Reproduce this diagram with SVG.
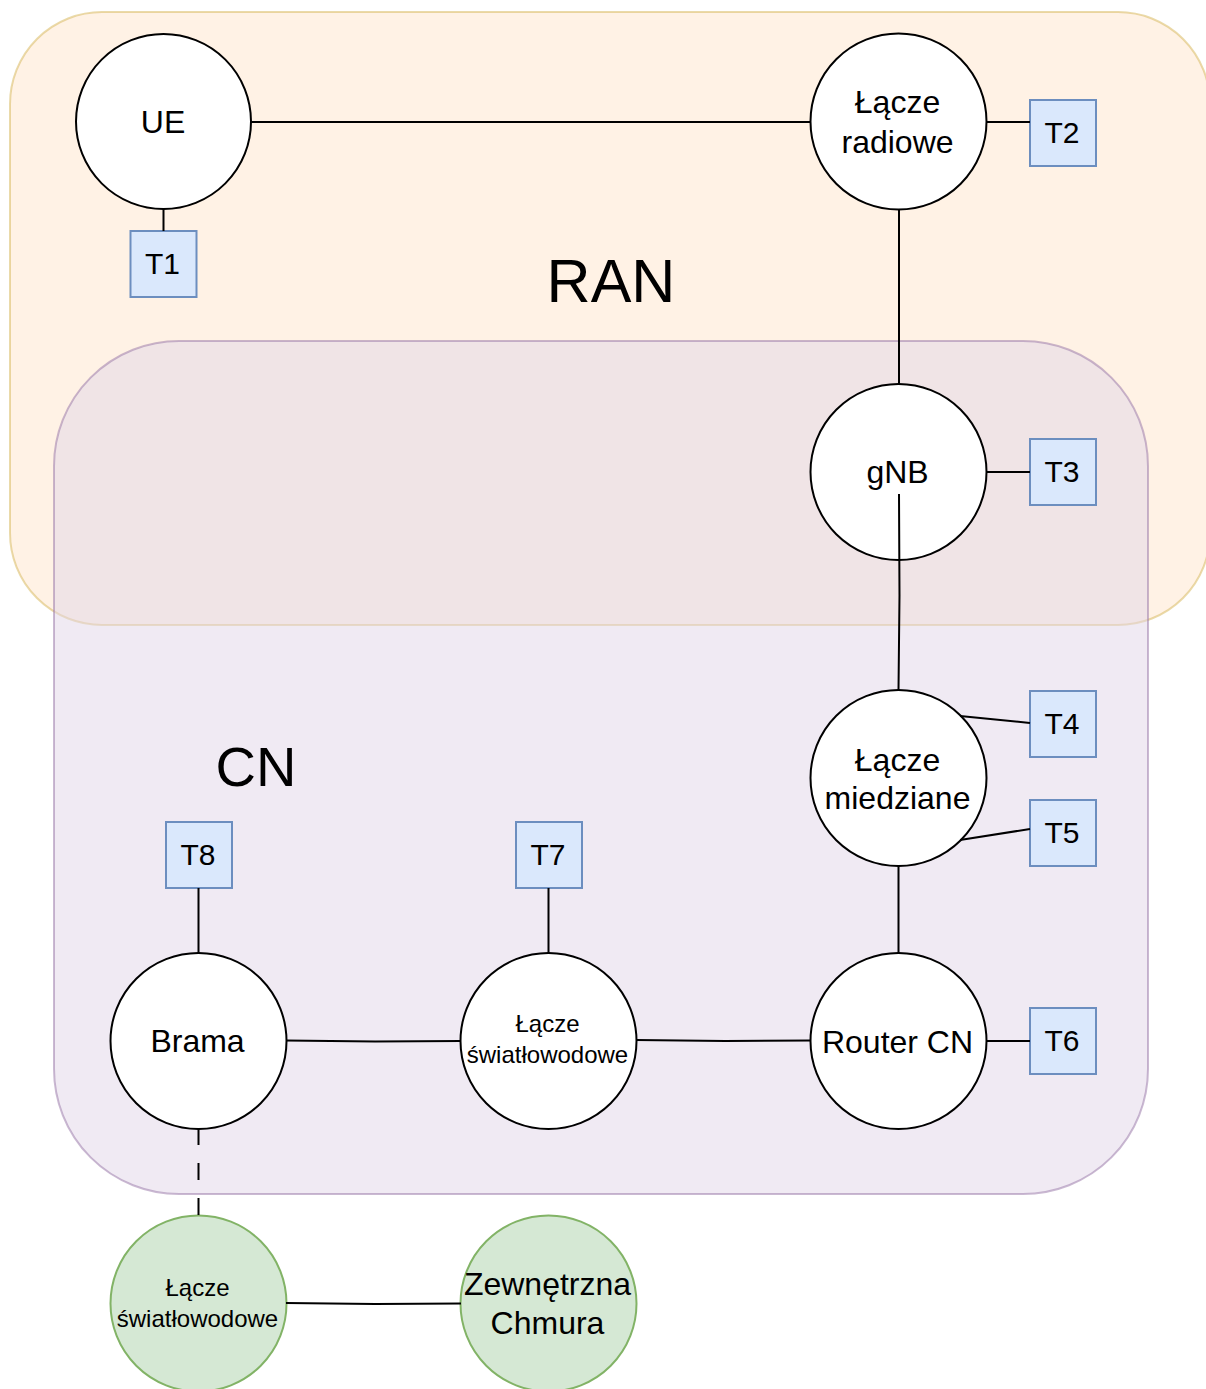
<svg xmlns="http://www.w3.org/2000/svg" width="1206" height="1389" viewBox="0 0 1206 1389">
  <style>
    text { font-family: "Liberation Sans", Arial, sans-serif; fill: #000; text-anchor: middle; }
    .node { fill: #fff; stroke: #000; stroke-width: 2; }
    .cloud { fill: #d5e8d4; stroke: #82b366; stroke-width: 2; }
    .probe { fill: #dae8fc; stroke: #6c8ebf; stroke-width: 2; }
    .edge { fill: none; stroke: #000; stroke-width: 2; }
    .dashed { stroke-dasharray: 17 18; }
    .big { font-size: 32px; }
    .small { font-size: 24px; }
    .tag { font-size: 30px; }
  </style>

  <!-- domain containers -->
  <g id="ran">
    <rect x="10" y="12" width="1200" height="613" rx="92" ry="92" fill="#ffe6cc" fill-opacity="0.5" stroke="#d6b656" stroke-opacity="0.5" stroke-width="2"/>
    <text x="611" y="302" style="font-size:61px">RAN</text>
  </g>
  <g id="cn">
    <rect x="54" y="341" width="1094" height="853" rx="125" ry="125" fill="#e1d5e7" fill-opacity="0.5" stroke="#9673a6" stroke-opacity="0.5" stroke-width="2"/>
    <text x="256" y="786" style="font-size:56px">CN</text>
  </g>

  <!-- network elements -->
  <g id="node-ue">
    <circle class="node" cx="163.5" cy="121.5" r="87.5"/>
    <text class="big" x="163" y="133">UE</text>
  </g>
  <g id="node-radio">
    <circle class="node" cx="898.5" cy="121.5" r="88"/>
    <text class="big" x="897.5" y="113">Łącze</text>
    <text class="big" x="897.5" y="152.5">radiowe</text>
  </g>
  <g id="node-gnb">
    <circle class="node" cx="898.5" cy="472" r="88"/>
    <text class="big" x="897.5" y="483">gNB</text>
  </g>
  <g id="node-copper">
    <circle class="node" cx="898.5" cy="778" r="88"/>
    <text class="big" x="897.5" y="770.5">Łącze</text>
    <text class="big" x="897.5" y="808.5">miedziane</text>
  </g>
  <g id="node-router">
    <circle class="node" cx="898.5" cy="1041" r="88"/>
    <text class="big" x="897.5" y="1052.5">Router CN</text>
  </g>
  <g id="node-fiber">
    <circle class="node" cx="548.5" cy="1041" r="88"/>
    <text class="small" x="547.5" y="1032">Łącze</text>
    <text class="small" x="547.5" y="1063">światłowodowe</text>
  </g>
  <g id="node-gateway">
    <circle class="node" cx="198.5" cy="1041" r="88"/>
    <text class="big" x="197.5" y="1052">Brama</text>
  </g>
  <g id="node-ext-fiber">
    <circle class="cloud" cx="198.5" cy="1303.5" r="88"/>
    <text class="small" x="197.5" y="1296">Łącze</text>
    <text class="small" x="197.5" y="1327">światłowodowe</text>
  </g>
  <g id="node-cloud">
    <circle class="cloud" cx="548.5" cy="1303.5" r="88"/>
    <text class="big" x="547.5" y="1295">Zewnętrzna</text>
    <text class="big" x="547.5" y="1333.5">Chmura</text>
  </g>

  <!-- measurement points -->
  <g id="t1"><rect class="probe" x="130.5" y="231" width="66" height="66"/><text class="tag" x="162.5" y="274">T1</text></g>
  <g id="t2"><rect class="probe" x="1030" y="100" width="66" height="66"/><text class="tag" x="1062" y="143">T2</text></g>
  <g id="t3"><rect class="probe" x="1030" y="439" width="66" height="66"/><text class="tag" x="1062" y="482">T3</text></g>
  <g id="t4"><rect class="probe" x="1030" y="691" width="66" height="66"/><text class="tag" x="1062" y="734">T4</text></g>
  <g id="t5"><rect class="probe" x="1030" y="800" width="66" height="66"/><text class="tag" x="1062" y="843">T5</text></g>
  <g id="t6"><rect class="probe" x="1030" y="1008" width="66" height="66"/><text class="tag" x="1062" y="1051">T6</text></g>
  <g id="t7"><rect class="probe" x="516" y="822" width="66" height="66"/><text class="tag" x="548" y="865">T7</text></g>
  <g id="t8"><rect class="probe" x="166" y="822" width="66" height="66"/><text class="tag" x="198" y="865">T8</text></g>

  <!-- connectors, drawn last so the gNB uplink shows inside its circle -->
  <g id="connectors">
    <path class="edge" d="M251,122 L811,122"/>
    <path class="edge" d="M163.5,209 L163.5,231"/>
    <path class="edge" d="M986.5,122 L1030,122"/>
    <path class="edge" d="M899,210 L899,384"/>
    <path class="edge" d="M986,472 L1030,472"/>
    <path class="edge" d="M899,494 L899.5,595 L898.5,690"/>
    <path class="edge" d="M960,716 L1030,723"/>
    <path class="edge" d="M960,840 L1030,829"/>
    <path class="edge" d="M898.5,866 L898.5,953"/>
    <path class="edge" d="M986,1041 L1030,1041"/>
    <path class="edge" d="M286,1040.5 L375,1041.5 L461,1041"/>
    <path class="edge" d="M636,1040 L725,1041 L811,1040.5"/>
    <path class="edge" d="M548.5,888 L548.5,953"/>
    <path class="edge" d="M198.5,888 L198.5,953"/>
    <path class="edge dashed" d="M198.5,1128 L198.5,1216"/>
    <path class="edge" d="M286,1303 L375,1304 L461,1303.5"/>
  </g>
</svg>
